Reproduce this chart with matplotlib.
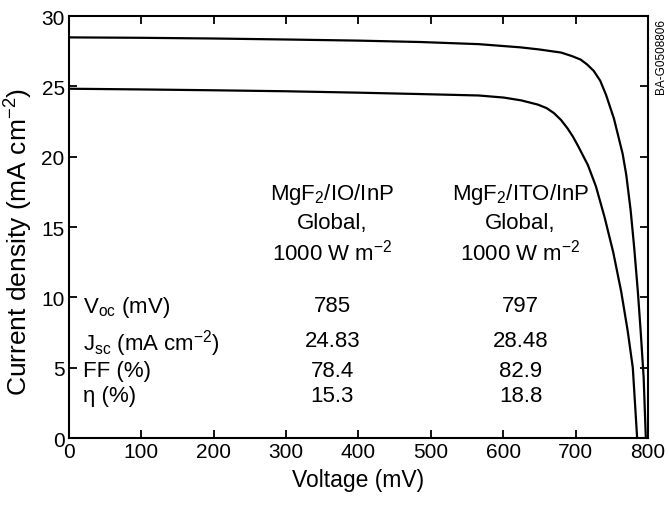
import matplotlib
matplotlib.use("Agg")
import matplotlib.pyplot as plt

plt.rcParams['font.family'] = ['Liberation Sans', 'DejaVu Sans']
plt.rcParams['mathtext.fontset'] = 'custom'
plt.rcParams['mathtext.rm'] = 'Liberation Sans'
plt.rcParams['mathtext.it'] = 'Liberation Sans'

# ITO/InP cell (upper curve)
v_ito = [0, 100, 200, 300, 400, 486, 566, 624, 650, 680, 695, 707, 716, 725, 734, 742, 753,
         765, 770, 776, 781, 786, 790, 794, 797]
j_ito = [28.48, 28.45, 28.4, 28.33, 28.25, 28.15, 28.0, 27.77, 27.62, 27.4, 27.15, 26.9, 26.55,
         26.1, 25.4, 24.4, 22.7, 20.2, 18.7, 16.2, 13.5, 10.4, 7.5, 4.3, 0.0]
# IO/InP cell (lower curve)
v_io = [0, 100, 200, 300, 400, 486, 566, 601, 625, 648, 660, 670, 680, 689, 696, 703, 710, 717,
        728, 740, 752, 763, 772, 779, 785]
j_io = [24.83, 24.78, 24.72, 24.65, 24.55, 24.45, 24.35, 24.2, 24.0, 23.7, 23.45, 23.1, 22.6,
        22.0, 21.45, 20.8, 20.1, 19.4, 17.9, 15.7, 13.2, 10.4, 7.6, 5.0, 0.0]

xticks = [0, 100, 200, 300, 400, 500, 600, 700, 800]
yticks = [0, 5, 10, 15, 20, 25, 30]

row_labels = [r'V$_{\mathrm{oc}}$ (mV)', r'J$_{\mathrm{sc}}$ (mA cm$^{\mathrm{-2}}$)', 'FF (%)', 'η (%)']
io_values = ['785', '24.83', '78.4', '15.3']
ito_values = ['797', '28.48', '82.9', '18.8']
io_header = [r'MgF$_2$/IO/InP', 'Global,', r'1000 W m$^{\mathrm{-2}}$']
ito_header = [r'MgF$_2$/ITO/InP', 'Global,', r'1000 W m$^{\mathrm{-2}}$']

fig = plt.figure(figsize=(6.69, 5.06), dpi=100)
ax = fig.add_axes([0.103, 0.1324, 0.8656, 0.834])

ax.plot(v_ito, j_ito, color='black', lw=1.6, solid_joinstyle='round')
ax.plot(v_io, j_io, color='black', lw=1.6, solid_joinstyle='round')

ax.set_xlim(0, 800)
ax.set_ylim(0, 30)
ax.set_xticks(xticks)
ax.set_yticks(yticks)
ax.tick_params(direction='in', length=6, width=1.3, labelsize=15, pad=3,
               top=True, right=True)
for s in ax.spines.values():
    s.set_linewidth(1.5)

ax.set_xlabel('Voltage (mV)', fontsize=16.5, labelpad=5)
ax.set_ylabel(r'Current density (mA cm$^{\mathrm{-2}}$)', fontsize=19)
ax.yaxis.set_label_coords(-0.058, 0.468)

fs = 16
head_y = [17.6, 15.5, 13.4]
for line_a, line_b, y in zip(io_header, ito_header, head_y):
    ax.text(364, y, line_a, ha='center', va='center_baseline', fontsize=fs)
    ax.text(624, y, line_b, ha='center', va='center_baseline', fontsize=fs)

row_y = [9.6, 7.1, 5.0, 3.2]
for lab, a, b, y in zip(row_labels, io_values, ito_values, row_y):
    ax.text(19, y, lab, ha='left', va='center_baseline', fontsize=fs)
    ax.text(364, y, a, ha='center', va='center_baseline', fontsize=fs)
    ax.text(624, y, b, ha='center', va='center_baseline', fontsize=fs)

fig.text(0.988, 0.962, 'BA-G0508806', rotation=90, ha='center', va='top', fontsize=8.5)

fig.savefig('out.png', dpi=100)
